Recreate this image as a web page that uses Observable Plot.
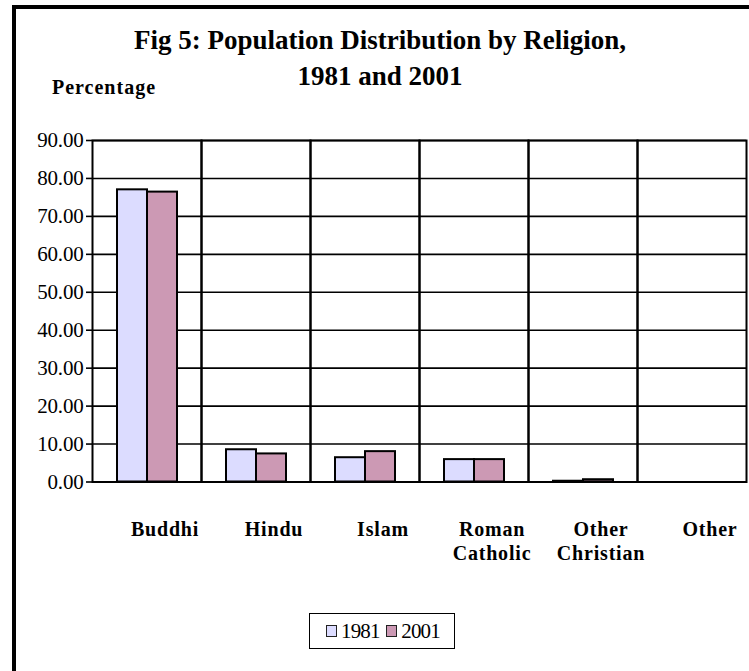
<!DOCTYPE html>
<html>
<head>
<meta charset="utf-8">
<script src="https://cdn.jsdelivr.net/npm/d3@7"></script>
<script src="https://cdn.jsdelivr.net/npm/@observablehq/plot@0.6"></script>
<style>
  html, body { margin: 0; padding: 0; background: #fff; overflow: hidden; }
  #wrap { position: relative; width: 749px; height: 671px; overflow: hidden; font-family: "Liberation Serif", "Times New Roman", serif; }
  #border { position: absolute; left: 12px; top: 5px; width: 800px; height: 800px; border: 4px solid #000; box-sizing: border-box; }
  #title { position: absolute; left: 0; width: 760px; top: 22px; text-align: center; font-weight: bold; font-size: 27px; line-height: 36px; color: #000; }
  #ylab { position: absolute; left: 52px; top: 76px; font-weight: bold; font-size: 20px; letter-spacing: 1px; }
  #chart { position: absolute; left: 0; top: 0; }
  #legend { position: absolute; left: 309px; top: 613px; width: 146px; height: 36px; border: 1.5px solid #000; box-sizing: border-box; display: flex; align-items: center; justify-content: center; font-size: 21px; letter-spacing: -0.8px; gap: 0; }
  .sw { display: inline-block; width: 9px; height: 10px; border: 1.5px solid #222; margin: 0 4px 0 2px; }
  svg g[aria-label="fx-axis tick label"] text { letter-spacing: 0.8px; }
  svg g[aria-label="y-axis tick label"] text { letter-spacing: -0.2px; }
</style>
</head>
<body>
<div id="wrap">
  <div id="border"></div>
  <div id="title">Fig 5: Population Distribution by Religion,<br>1981 and 2001</div>
  <div id="ylab">Percentage</div>
  <div id="chart"></div>
  <div id="legend"><span class="sw" style="background:#dcdcff"></span>1981&nbsp;<span class="sw" style="background:#cc99b4"></span>2001</div>
</div>
<script>
const categories = ["Buddhi", "Hindu", "Islam", "Roman\nCatholic", "Other\nChristian", "Other"];
const years = ["1981", "2001"];
const values1981 = [77.0, 8.5, 6.4, 5.9, 0.2, 0.0];
const values2001 = [76.4, 7.4, 8.0, 5.9, 0.6, 0.0];
const colors = ["#dcdcff", "#cc99b4"];
const yTicks = [0, 10, 20, 30, 40, 50, 60, 70, 80, 90];

const data = [];
categories.forEach((c, i) => {
  data.push({category: c, year: years[0], value: values1981[i]});
  data.push({category: c, year: years[1], value: values2001[i]});
});

const chart = Plot.plot({
  width: 749,
  height: 600,
  marginTop: 140,
  marginBottom: 118.5,
  marginLeft: 92,
  marginRight: 3,
  style: {fontFamily: "'Liberation Serif', 'Times New Roman', serif", fontSize: "21px", color: "#000", background: "transparent"},
  fx: {domain: categories, padding: 0, label: null},
  x: {domain: years, paddingInner: 0, paddingOuter: 0.774, axis: null},
  y: {domain: [0, 90], label: null},
  color: {domain: years, range: colors},
  marks: [
    Plot.ruleY(yTicks, {stroke: "#000", strokeWidth: 1.6}),
    Plot.barY(data, {fx: "category", x: "year", y: "value", fill: "year", stroke: "#000", strokeWidth: 2, inset: 0}),
    Plot.frame({stroke: "#000", strokeWidth: 2}),
    Plot.axisY({ticks: yTicks, tickFormat: d3.format(".2f"), tickSize: 6, tickPadding: 3, strokeWidth: 1.6, label: null, fontSize: 21}),
    Plot.axisFx({anchor: "bottom", tickSize: 0, tickPadding: 37, dx: 18, fontWeight: "bold", fontSize: 20, lineHeight: 1.2, label: null})
  ]
});
document.getElementById("chart").appendChild(chart);
</script>
</body>
</html>
